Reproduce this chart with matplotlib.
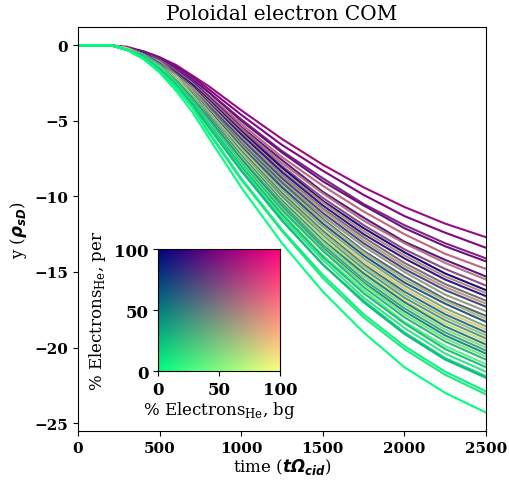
import numpy as np
import matplotlib
matplotlib.use("Agg")
import matplotlib.pyplot as plt

# time axis (t * Omega_cid)
times = [0, 100, 200, 300, 400, 500, 600, 700, 800, 1000, 1250, 1500, 1750, 2000, 2250, 2500]

# % of He electrons in background and in perturbation, one entry per run
bg_pct = [60, 50, 50, 40, 75, 35, 70, 55, 10, 70, 20, 45, 75, 25, 60, 30, 70, 15, 50,
          85, 20, 60, 35, 80, 15, 55, 25, 10, 45, 20, 35, 10, 20, 12, 5, 5, 10, 0]
per_pct = [95, 97, 85, 92, 60, 90, 55, 70, 95, 45, 90, 55, 40, 70, 40, 60, 30, 65, 35,
           20, 55, 25, 40, 15, 50, 15, 35, 45, 10, 30, 5, 25, 10, 20, 25, 5, 8, 0]

# poloidal COM position y (rho_sD) of every run at the times above
y_com = [
  [0, 0, 0, -0.1, -0.4, -0.8, -1.3, -2.0, -2.7, -4.3, -6.2, -7.9, -9.4, -10.7, -11.8, -12.7],
  [0, 0, 0, -0.2, -0.4, -0.8, -1.4, -2.1, -2.9, -4.6, -6.6, -8.3, -9.9, -11.3, -12.4, -13.4],
  [0, 0, 0, -0.2, -0.5, -0.9, -1.5, -2.2, -3.1, -4.9, -7.0, -8.8, -10.5, -11.9, -13.1, -14.1],
  [0, 0, 0, -0.2, -0.5, -0.9, -1.5, -2.3, -3.1, -5.0, -7.1, -9.0, -10.6, -12.1, -13.3, -14.3],
  [0, 0, 0, -0.2, -0.5, -1.0, -1.6, -2.4, -3.3, -5.2, -7.4, -9.3, -11.0, -12.5, -13.8, -14.8],
  [0, 0, 0, -0.2, -0.5, -1.0, -1.6, -2.4, -3.4, -5.4, -7.6, -9.7, -11.4, -13.0, -14.2, -15.3],
  [0, 0, 0, -0.2, -0.5, -1.0, -1.7, -2.5, -3.5, -5.5, -7.8, -9.8, -11.6, -13.1, -14.4, -15.5],
  [0, 0, 0, -0.2, -0.5, -1.0, -1.7, -2.6, -3.6, -5.6, -8.0, -10.1, -11.9, -13.5, -14.8, -15.9],
  [0, 0, 0, -0.2, -0.5, -1.1, -1.8, -2.6, -3.6, -5.7, -8.1, -10.3, -12.1, -13.7, -15.1, -16.2],
  [0, 0, 0, -0.2, -0.6, -1.1, -1.8, -2.7, -3.7, -5.8, -8.3, -10.4, -12.3, -13.9, -15.3, -16.4],
  [0, 0, 0, -0.2, -0.6, -1.1, -1.8, -2.7, -3.8, -5.9, -8.4, -10.6, -12.5, -14.1, -15.5, -16.6],
  [0, 0, 0, -0.2, -0.6, -1.1, -1.9, -2.8, -3.9, -6.1, -8.6, -10.8, -12.7, -14.4, -15.8, -16.9],
  [0, 0, 0, -0.2, -0.6, -1.1, -1.9, -2.8, -3.9, -6.1, -8.7, -10.9, -12.9, -14.6, -16.0, -17.1],
  [0, 0, 0, -0.2, -0.6, -1.2, -1.9, -2.9, -4.0, -6.2, -8.8, -11.1, -13.1, -14.8, -16.2, -17.3],
  [0, 0, 0, -0.2, -0.6, -1.2, -2.0, -2.9, -4.1, -6.4, -9.0, -11.3, -13.3, -15.0, -16.5, -17.6],
  [0, 0, 0, -0.2, -0.6, -1.2, -2.0, -3.0, -4.1, -6.5, -9.1, -11.5, -13.6, -15.3, -16.8, -17.9],
  [0, 0, 0, -0.2, -0.6, -1.2, -2.0, -3.0, -4.2, -6.6, -9.3, -11.6, -13.7, -15.5, -16.9, -18.1],
  [0, 0, 0, -0.2, -0.6, -1.2, -2.1, -3.1, -4.3, -6.7, -9.4, -11.8, -13.9, -15.7, -17.1, -18.3],
  [0, 0, 0, -0.2, -0.6, -1.3, -2.1, -3.1, -4.4, -6.8, -9.6, -12.0, -14.1, -15.9, -17.4, -18.6],
  [0, 0, 0, -0.2, -0.7, -1.3, -2.1, -3.2, -4.4, -6.9, -9.7, -12.2, -14.3, -16.1, -17.6, -18.8],
  [0, 0, 0, -0.2, -0.7, -1.3, -2.2, -3.2, -4.5, -7.0, -9.8, -12.3, -14.5, -16.3, -17.8, -19.0],
  [0, 0, 0, -0.2, -0.7, -1.3, -2.2, -3.3, -4.5, -7.1, -9.9, -12.4, -14.6, -16.5, -18.0, -19.2],
  [0, 0, 0, -0.2, -0.7, -1.3, -2.2, -3.3, -4.6, -7.2, -10.0, -12.6, -14.8, -16.7, -18.2, -19.4],
  [0, 0, 0, -0.2, -0.7, -1.4, -2.2, -3.3, -4.7, -7.2, -10.2, -12.7, -15.0, -16.9, -18.4, -19.6],
  [0, 0, 0, -0.3, -0.7, -1.4, -2.3, -3.4, -4.7, -7.3, -10.3, -12.9, -15.1, -17.0, -18.6, -19.8],
  [0, 0, 0, -0.3, -0.7, -1.4, -2.3, -3.4, -4.8, -7.4, -10.4, -13.0, -15.3, -17.2, -18.8, -20.0],
  [0, 0, 0, -0.3, -0.7, -1.4, -2.3, -3.5, -4.8, -7.5, -10.5, -13.2, -15.5, -17.4, -19.0, -20.2],
  [0, 0, 0, -0.3, -0.7, -1.4, -2.4, -3.5, -4.9, -7.6, -10.7, -13.4, -15.7, -17.6, -19.2, -20.4],
  [0, 0, 0, -0.3, -0.7, -1.4, -2.4, -3.6, -5.0, -7.7, -10.8, -13.5, -15.8, -17.8, -19.4, -20.6],
  [0, 0, 0, -0.3, -0.7, -1.5, -2.4, -3.6, -5.0, -7.8, -10.9, -13.6, -16.0, -18.0, -19.6, -20.8],
  [0, 0, 0, -0.3, -0.8, -1.5, -2.5, -3.7, -5.1, -7.9, -11.1, -13.9, -16.2, -18.3, -19.9, -21.1],
  [0, 0, 0, -0.3, -0.8, -1.5, -2.5, -3.7, -5.2, -8.0, -11.2, -14.0, -16.4, -18.4, -20.1, -21.3],
  [0, 0, 0, -0.3, -0.8, -1.5, -2.5, -3.8, -5.3, -8.2, -11.4, -14.2, -16.7, -18.7, -20.4, -21.6],
  [0, 0, 0, -0.3, -0.8, -1.6, -2.6, -3.9, -5.4, -8.3, -11.6, -14.5, -16.9, -19.0, -20.7, -21.9],
  [0, 0, 0, -0.3, -0.8, -1.6, -2.6, -3.9, -5.4, -8.3, -11.6, -14.5, -17.0, -19.1, -20.8, -22.0],
  [0, 0, 0, -0.3, -0.8, -1.7, -2.7, -4.1, -5.7, -8.8, -12.2, -15.2, -17.8, -19.9, -21.6, -22.9],
  [0, 0, 0, -0.3, -0.9, -1.7, -2.8, -4.1, -5.8, -8.9, -12.3, -15.4, -18.0, -20.1, -21.8, -23.1],
  [0, 0, 0, -0.3, -0.9, -1.8, -3.0, -4.4, -6.1, -9.4, -13.1, -16.3, -19.0, -21.3, -23.0, -24.3],
]

plt.rcParams['font.family'] = 'DejaVu Serif'

def mix_color(bg, per):
  # red follows bg, green follows (1 - per), blue fixed
  return (bg / 100.0, 1.0 - per / 100.0, 0.5)

fig = plt.figure(figsize=(5.1, 4.81), dpi=100)
ax = fig.add_axes([0.153, 0.102, 0.800, 0.840])

for bg, per, y in zip(bg_pct, per_pct, y_com):
  ax.plot(times, y, color=mix_color(bg, per), lw=1.5)

ax.set_xlim(0, 2500)
ax.set_xticks([0, 500, 1000, 1500, 2000, 2500])
ax.set_title("Poloidal electron COM", fontsize=14.5)
ax.set_xlabel(r"time ($\mathbfit{t\Omega}_{\mathbfit{cid}}$)", fontsize=12, labelpad=1)
ax.set_ylabel(r"y ($\mathbfit{\rho}_{\mathbfit{sD}}$)", fontsize=12)
for lab in ax.get_xticklabels() + ax.get_yticklabels():
  lab.set_fontweight('bold')
  lab.set_fontsize(11)

# colour key inset
ins = fig.add_axes([0.31, 0.2266, 0.239, 0.2536])
g = np.linspace(0, 100, 256)
BG, PER = np.meshgrid(g, g)
key = np.dstack([BG / 100.0, 1.0 - PER / 100.0, np.full_like(BG, 0.5)])
ins.imshow(key, origin='lower', extent=[0, 100, 0, 100], aspect='auto')
ins.set_xticks([0, 50, 100])
ins.set_yticks([0, 50, 100])
ins.set_xlabel(r"% Electrons$_\mathregular{He}$, bg", fontsize=12, labelpad=1)
ins.set_ylabel(r"% Electrons$_\mathregular{He}$, per", fontsize=12)
for lab in ins.get_xticklabels() + ins.get_yticklabels():
  lab.set_fontweight('bold')
  lab.set_fontsize(12)

fig.savefig("out.png")
